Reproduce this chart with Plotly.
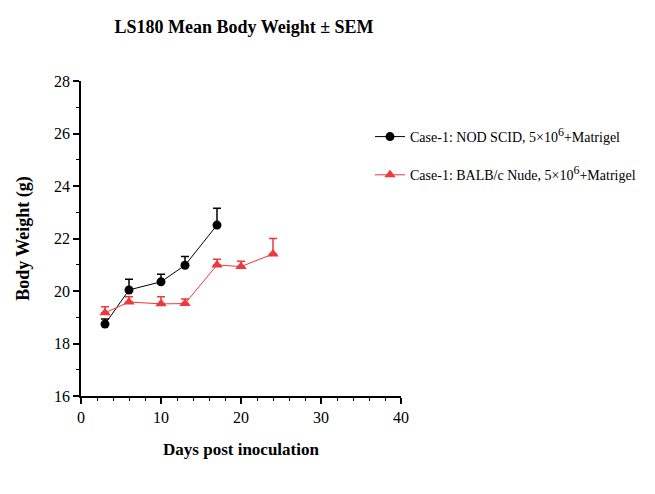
import plotly.graph_objects as go

days_nod = [3, 6, 10, 13, 17]
weight_nod = [18.74, 20.04, 20.35, 20.98, 22.51]
sem_nod = [0.19, 0.41, 0.29, 0.33, 0.64]

days_balb = [3, 6, 10, 13, 17, 20, 24]
weight_balb = [19.17, 19.58, 19.51, 19.52, 20.99, 20.93, 21.41]
sem_balb = [0.23, 0.20, 0.27, 0.18, 0.22, 0.20, 0.59]

SUP6 = "<sup><span style='font-size:12px'>6</span></sup>"
name_nod = "Case-1: NOD SCID, 5×10" + SUP6 + "+Matrigel"
name_balb = "Case-1: BALB/c Nude, 5×10" + SUP6 + "+Matrigel"

FONT = "Liberation Serif, Times New Roman, serif"
RED = "#f0373c"

fig = go.Figure()
fig.add_trace(go.Scatter(
    x=days_nod, y=weight_nod, name=name_nod, mode="lines+markers",
    legendgroup="a",
    line=dict(color="black", width=1),
    marker=dict(symbol="circle", size=9, color="black"),
    error_y=dict(type="data", array=sem_nod, arrayminus=[0]*len(sem_nod),
                 symmetric=False, color="black", thickness=1.5, width=4),
))
fig.add_trace(go.Scatter(
    x=days_balb, y=weight_balb, name=name_balb, mode="lines+markers",
    legendgroup="b",
    line=dict(color=RED, width=1),
    marker=dict(symbol="triangle-up", size=10, color=RED),
    error_y=dict(type="data", array=sem_balb, arrayminus=[0]*len(sem_balb),
                 symmetric=False, color=RED, thickness=1.5, width=4),
))

fig.update_layout(
    width=655, height=494,
    margin=dict(l=81, r=254, t=81, b=98),
    paper_bgcolor="white", plot_bgcolor="white",
    font=dict(family=FONT, color="black", size=14),
    title=dict(text="<b>LS180 Mean Body Weight ± SEM</b>", x=244/655, xanchor="center",
               y=1 - 27/494, yanchor="middle", font=dict(size=18, family=FONT)),
    showlegend=True,
    legend=dict(x=(370-81)/320, xanchor="left", y=1 - (121-81)/315, yanchor="top",
                traceorder="grouped", tracegroupgap=17,
                font=dict(size=14, family=FONT), bgcolor="rgba(0,0,0,0)"),
    xaxis=dict(range=[0, 40], tickvals=[0, 10, 20, 30, 40], showgrid=False, zeroline=False,
               showline=True, linecolor="black", linewidth=1.5,
               ticks="outside", ticklen=6, tickwidth=1.5, tickcolor="black",
               tickfont=dict(size=16, family=FONT),
               minor=dict(dtick=2, tick0=0, ticks="outside", ticklen=3, tickwidth=1, tickcolor="black", showgrid=False),
               title=dict(text="<b>Days post inoculation</b>", font=dict(size=17, family=FONT), standoff=18)),
    yaxis=dict(range=[16, 28], tickvals=[16, 18, 20, 22, 24, 26, 28], showgrid=False, zeroline=False,
               showline=True, linecolor="black", linewidth=1.5,
               ticks="outside", ticklen=6, tickwidth=1.5, tickcolor="black",
               tickfont=dict(size=16, family=FONT),
               minor=dict(dtick=1, tick0=16, ticks="outside", ticklen=3, tickwidth=1, tickcolor="black", showgrid=False),
               title=dict(text="<b>Body Weight (g)</b>", font=dict(size=18, family=FONT), standoff=20)),
)

fig.write_html("out.html")
